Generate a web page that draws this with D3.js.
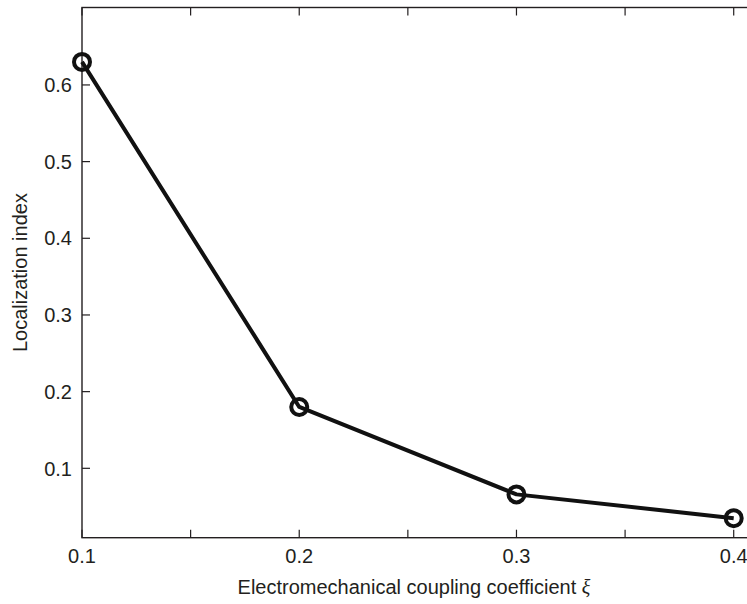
<!DOCTYPE html>
<html>
<head>
<meta charset="utf-8">
<script src="https://cdn.jsdelivr.net/npm/d3@7"></script>
<style>
  body { margin: 0; background: #fff; }
  svg { display: block; font-family: "Liberation Sans", Arial, sans-serif; }
</style>
</head>
<body>
<svg width="747" height="604"></svg>
<script>
// data
const xValues = [0.1, 0.2, 0.3, 0.4];
const yValues = [0.63, 0.18, 0.066, 0.035];
const xTicks = [0.1, 0.2, 0.3, 0.4];
const xMinorTicks = [0.15, 0.25, 0.35];
const yTicks = [0.1, 0.2, 0.3, 0.4, 0.5, 0.6];

const svg = d3.select("svg");
const ink = "#231f20";
const fontSize = "20px";

// 플롯 영역 (오른쪽 테두리는 화면 밖)
const x = d3.scaleLinear().domain([0.1, 0.4075]).range([82, 750]);
const y = d3.scaleLinear().domain([0.0095, 0.701]).range([537.7, 7.5]);

const [x0, x1] = x.range();
const [yb, yt] = y.range();

svg.append("rect")
  .attr("x", x0).attr("y", yt)
  .attr("width", x1 - x0).attr("height", yb - yt)
  .attr("fill", "none")
  .attr("stroke", ink)
  .attr("stroke-width", 1.4);

// 눈금 (안쪽 방향)
const tickLen = 8;
const xAll = xTicks.concat(xMinorTicks);
svg.selectAll(".xt-b").data(xAll).enter().append("line")
  .attr("x1", d => x(d)).attr("x2", d => x(d))
  .attr("y1", yb).attr("y2", yb - tickLen)
  .attr("stroke", ink).attr("stroke-width", 1.2);
svg.selectAll(".xt-t").data(xAll).enter().append("line")
  .attr("x1", d => x(d)).attr("x2", d => x(d))
  .attr("y1", yt).attr("y2", yt + tickLen)
  .attr("stroke", ink).attr("stroke-width", 1.2);
svg.selectAll(".yt").data(yTicks).enter().append("line")
  .attr("x1", x0).attr("x2", x0 + tickLen)
  .attr("y1", d => y(d)).attr("y2", d => y(d))
  .attr("stroke", ink).attr("stroke-width", 1.2);

// 눈금 라벨
svg.selectAll(".xl").data(xTicks).enter().append("text")
  .attr("x", d => x(d)).attr("y", 563)
  .attr("text-anchor", "middle")
  .style("font-size", fontSize).style("fill", ink)
  .text(d => d.toFixed(1));
svg.selectAll(".yl").data(yTicks).enter().append("text")
  .attr("x", x0 - 10).attr("y", d => y(d))
  .attr("dy", "0.36em")
  .attr("text-anchor", "end")
  .style("font-size", fontSize).style("fill", ink)
  .text(d => d.toFixed(1));

// 축 제목
const xt = svg.append("text")
  .attr("x", 414).attr("y", 594)
  .attr("text-anchor", "middle")
  .style("font-size", fontSize).style("fill", ink)
  .text("Electromechanical coupling coefficient ");
xt.append("tspan")
  .style("font-family", "'Liberation Serif', 'DejaVu Serif', serif")
  .style("font-style", "italic")
  .text("ξ");

svg.append("text")
  .attr("transform", `translate(27, ${(yt + yb) / 2}) rotate(-90)`)
  .attr("text-anchor", "middle")
  .style("font-size", fontSize).style("fill", ink)
  .text("Localization index");

// 선 + 마커
const pts = xValues.map((v, i) => [v, yValues[i]]);
svg.append("path")
  .datum(pts)
  .attr("d", d3.line().x(d => x(d[0])).y(d => y(d[1])))
  .attr("fill", "none")
  .attr("stroke", "#111")
  .attr("stroke-width", 4)
  .attr("stroke-linejoin", "round");

svg.selectAll(".mk").data(pts).enter().append("circle")
  .attr("cx", d => x(d[0])).attr("cy", d => y(d[1]))
  .attr("r", 8)
  .attr("fill", "none")
  .attr("stroke", "#111")
  .attr("stroke-width", 4);
</script>
</body>
</html>
